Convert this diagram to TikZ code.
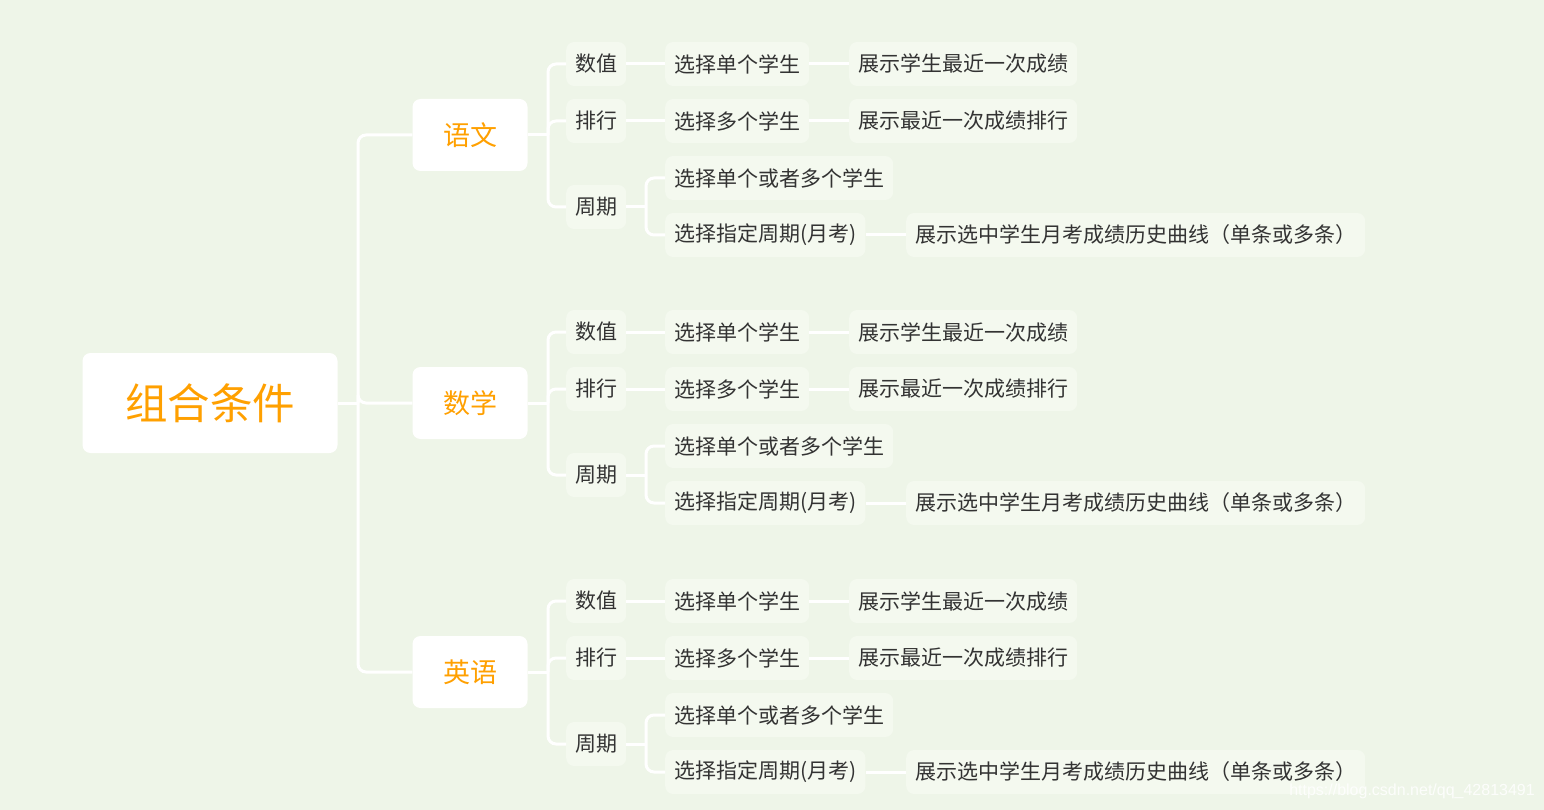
\documentclass[tikz,border=0pt]{standalone}
\usepackage{fontspec}
\newfontfamily\cjk{Noto Sans CJK SC}
\newfontfamily\wmfont{Liberation Sans}
\definecolor{mapbg}{HTML}{EEF5E8}
\definecolor{leafbg}{HTML}{F4F9EF}
\definecolor{topic}{HTML}{FFA000}
\definecolor{leaftext}{HTML}{333333}
\tikzset{
  root/.style={fill=white, rounded corners=8pt, minimum width=255pt, minimum height=100pt,
    text=topic, font=\cjk\fontsize{42.5}{42.5}\selectfont},
  subject/.style={fill=white, rounded corners=8pt, minimum width=115pt, minimum height=72pt,
    text=topic, font=\cjk\fontsize{27}{27}\selectfont},
  leaf/.style={fill=leafbg, rounded corners=8pt, minimum height=44pt, inner xsep=9pt,
    anchor=west, text=leaftext, font=\cjk\fontsize{21}{21}\selectfont},
  link/.style={draw=white, line width=3pt},
  branch/.style={link, rounded corners=8pt},
}
\begin{document}
\begin{tikzpicture}[x=1pt, y=-1pt]
    \fill[mapbg] (0,0) rectangle (1544,810);
    % root
    \node[root] (root) at (210,403) {组合条件};
    \coordinate (trunk) at (358,403);
    \draw[link] (root) -- (trunk);
    % one group per subject
    \foreach \name/\sub/\dy in {yw/语文/0, sx/数学/268, yy/英语/537} {
        \node[subject] (\name) at (470,135+\dy) {\sub};
        \draw[branch] (trunk) |- (\name);
        \coordinate (\name-j) at (548,135+\dy);
        \draw[link] (\name) -- (\name-j);
        % kinds
        \node[leaf] (\name-sz) at (566,64+\dy) {数值};
        \node[leaf] (\name-ph) at (566,121+\dy) {排行};
        \node[leaf] (\name-zq) at (566,207+\dy) {周期};
        \draw[branch] (\name-j) |- (\name-sz);
        \draw[branch] (\name-j) |- (\name-ph);
        \draw[branch] (\name-j) |- (\name-zq);
        % choices
        \node[leaf] (\name-dg) at (665,64+\dy) {选择单个学生};
        \node[leaf] (\name-duo) at (665,121+\dy) {选择多个学生};
        \node[leaf] (\name-dd) at (665,178+\dy) {选择单个或者多个学生};
        \node[leaf] (\name-zd) at (665,235+\dy) {选择指定周期(月考)};
        \draw[link] (\name-sz) -- (\name-dg);
        \draw[link] (\name-ph) -- (\name-duo);
        \coordinate (\name-k) at (646,207+\dy);
        \draw[link] (\name-zq) -- (\name-k);
        \draw[branch] (\name-k) |- (\name-dd);
        \draw[branch] (\name-k) |- (\name-zd);
        % results
        \node[leaf] (\name-cj) at (849,64+\dy) {展示学生最近一次成绩};
        \node[leaf] (\name-pm) at (849,121+\dy) {展示最近一次成绩排行};
        \node[leaf] (\name-qx) at (906,235+\dy) {展示选中学生月考成绩历史曲线（单条或多条）};
        \draw[link] (\name-dg) -- (\name-cj);
        \draw[link] (\name-duo) -- (\name-pm);
        \draw[link] (\name-zd) -- (\name-qx);
    }
    % watermark
    \node[font=\wmfont\fontsize{16}{16}\selectfont, text=white, opacity=0.85] (mark) at (1412,791) {https://blog.csdn.net/qq\_42813491};
\end{tikzpicture}
\end{document}
